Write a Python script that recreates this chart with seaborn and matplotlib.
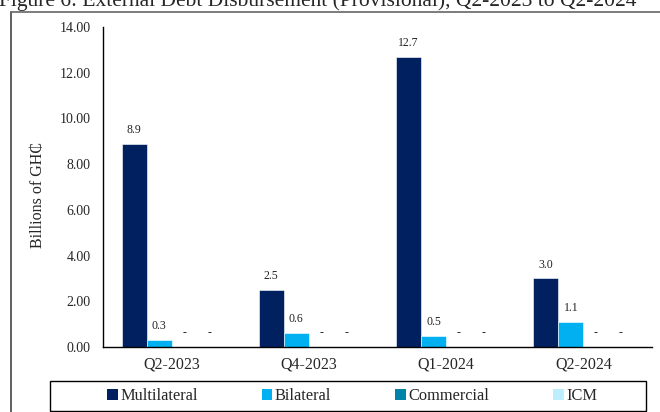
import matplotlib
matplotlib.use("Agg")
import matplotlib.pyplot as plt
from matplotlib.patches import Rectangle
from matplotlib.lines import Line2D
import seaborn as sns
import pandas as pd

# Quarterly external debt disbursements, billions of GH₵
quarters = ["Q2-2023", "Q4-2023", "Q1-2024", "Q2-2024"]
creditors = ["Multilateral", "Bilateral", "Commercial", "ICM"]
multilateral = [8.9, 2.5, 12.7, 3.0]
bilateral = [0.3, 0.6, 0.5, 1.1]
commercial = [0.0, 0.0, 0.0, 0.0]
icm = [0.0, 0.0, 0.0, 0.0]
yticks = [0, 2, 4, 6, 8, 10, 12, 14]

palette = {"Multilateral": "#002060", "Bilateral": "#00B0F0",
           "Commercial": "#0083A8", "ICM": "#BDEEFF"}

rows = []
for name, vals in zip(creditors, [multilateral, bilateral, commercial, icm]):
    for q, v in zip(quarters, vals):
        rows.append({"Quarter": q, "Creditor": name, "Value": v})
df = pd.DataFrame(rows)

sns.set_theme(style="white")
plt.rcParams["font.family"] = ["Liberation Serif", "DejaVu Serif"]

W, H = 660, 412
fig = plt.figure(figsize=(W / 100, H / 100), dpi=100)
ax = fig.add_axes([103 / W, 1 - 347 / H, 549 / W, 320 / H])

sns.barplot(data=df, x="Quarter", y="Value", hue="Creditor", order=quarters,
            hue_order=creditors, palette=palette, width=0.73, gap=0,
            saturation=1, edgecolor="white", linewidth=0.4, ax=ax,
            legend=False)

# value labels: zero values are shown as dashes
for container, name in zip(ax.containers, creditors):
    vals = df[df["Creditor"] == name].set_index("Quarter").loc[quarters, "Value"]
    for bar, v in zip(container, vals):
        txt = "-" if v == 0 else f"{v:.1f}"
        ax.annotate(txt, (bar.get_x() + bar.get_width() / 2, v),
                    xytext=(0, 10), textcoords="offset points",
                    ha="center", va="center", fontsize=8.5, color="#222222")

ax.set_ylim(0, 14)
ax.set_yticks(yticks)
ax.set_yticklabels([f"{t:.2f}" for t in yticks], fontsize=10)
ax.tick_params(axis="y", length=0, pad=9)
ax.tick_params(axis="x", length=0, pad=7, labelsize=11.5)
ax.set_xlabel("")
ax.set_ylabel("")
for s in ["top", "right"]:
    ax.spines[s].set_visible(False)
for s in ["left", "bottom"]:
    ax.spines[s].set_color("black")
    ax.spines[s].set_linewidth(1.0)
ax.grid(False)

fig.text(38 / W, 1 - 195 / H, "Billions of GH₵", rotation=90,
         ha="center", va="center", fontsize=11.5)

# legend strip: a fixed box with the entries centred inside it
fig.add_artist(Rectangle((50 / W, 1 - 411 / H), 596 / W, 30 / H,
                         transform=fig.transFigure, facecolor="none",
                         edgecolor="black", lw=1.0))
handles = [Rectangle((0, 0), 1, 1, facecolor=palette[c], edgecolor="none")
           for c in creditors]
fig.legend(handles, creditors, ncol=4, loc="center",
           bbox_to_anchor=(352 / W, 1 - 396 / H), frameon=False,
           fontsize=11.8, handlelength=0.65, handleheight=0.65,
           handletextpad=0.15, columnspacing=3.9, borderaxespad=0)

# outer frame and figure heading
fig.add_artist(Line2D([11 / W, 11 / W], [0, 1 - 12 / H], transform=fig.transFigure,
                      color="#444444", lw=1.2))
fig.add_artist(Line2D([11 / W, 1], [1 - 12 / H, 1 - 12 / H], transform=fig.transFigure,
                      color="#666666", lw=1.2))
fig.text(318 / W, 1 - 6 / H,
         "Figure 6: External Debt Disbursement (Provisional), Q2-2023 to Q2-2024",
         ha="center", va="baseline", fontsize=15.5)

fig.savefig("out.png", dpi=100)
